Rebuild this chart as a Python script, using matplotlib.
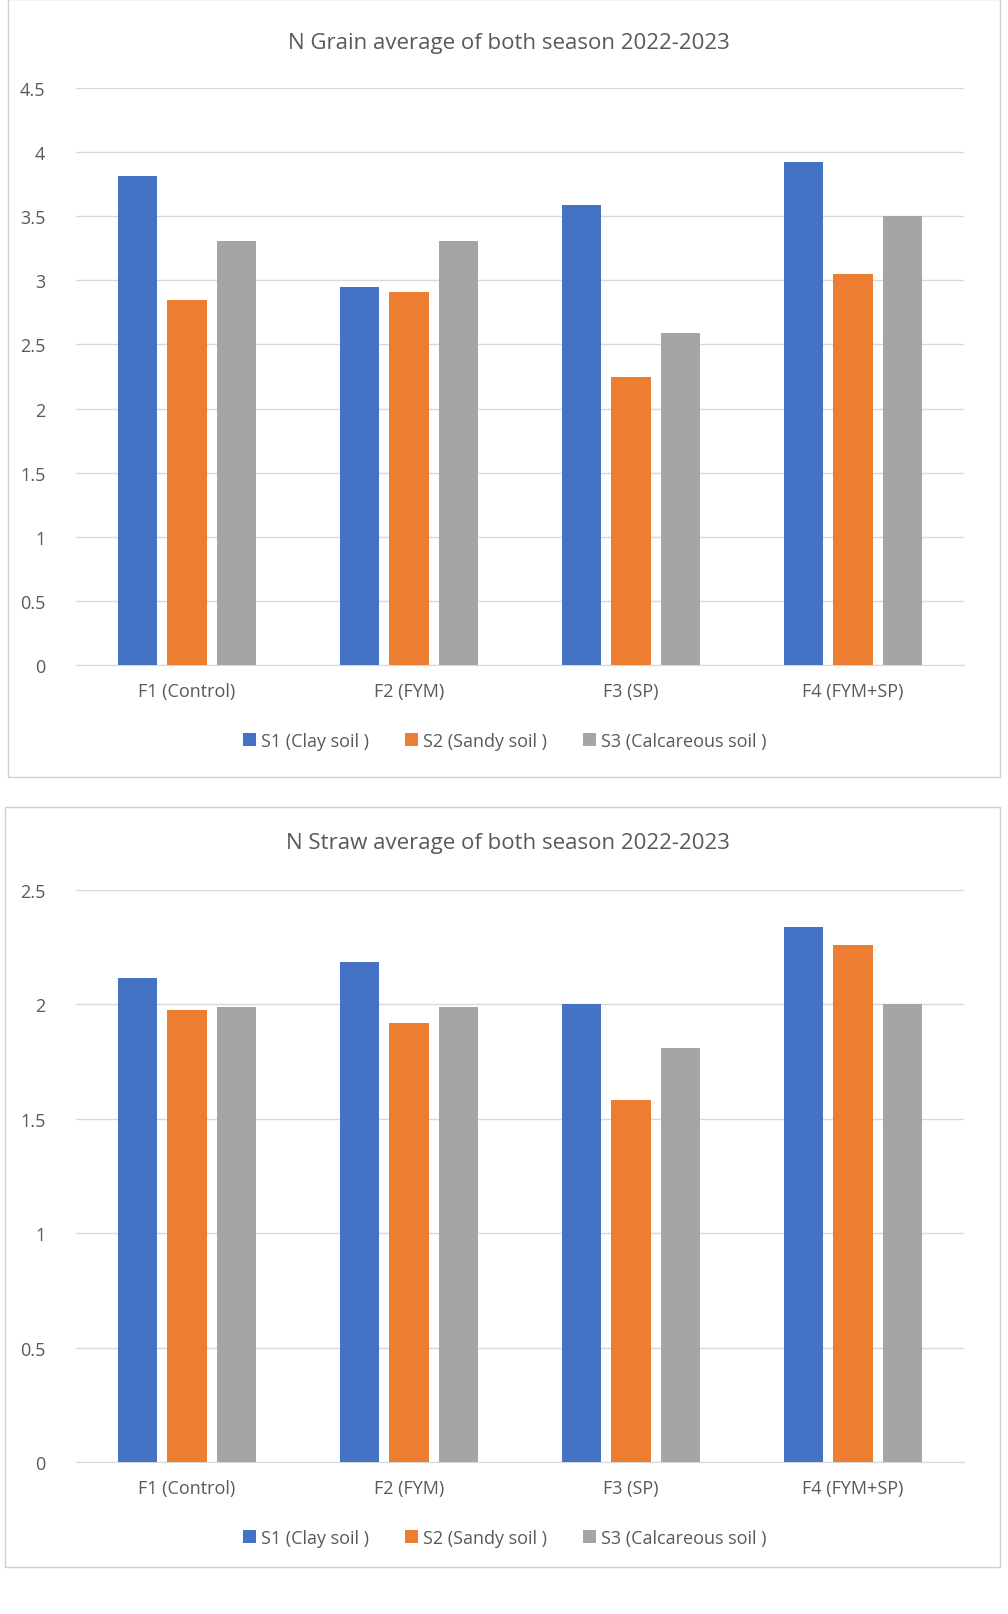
import matplotlib
matplotlib.use("Agg")
import matplotlib.pyplot as plt
import numpy as np
from matplotlib.patches import Rectangle

plt.rcParams['font.family'] = ['Open Sans', 'DejaVu Sans']

categories = ['F1 (Control)', 'F2 (FYM)', 'F3 (SP)', 'F4 (FYM+SP)']
series = ['S1 (Clay soil )', 'S2 (Sandy soil )', 'S3 (Calcareous soil )']
colors = ['#4472C4', '#ED7D31', '#A5A5A5']

grain = [[3.81, 2.95, 3.59, 3.92],
         [2.85, 2.91, 2.25, 3.05],
         [3.31, 3.31, 2.59, 3.50]]
straw = [[2.115, 2.185, 2.00, 2.34],
         [1.976, 1.92, 1.58, 2.26],
         [1.99, 1.99, 1.81, 2.00]]

W, H = 1008, 1615
fig = plt.figure(figsize=(W / 100, H / 100), dpi=100)

def fx(px): return px / W
def fy(py): return 1 - py / H

def panel(box, ax_px, data, ymax, step, title, title_y, legend_y):
    x0, y0, x1, y1 = box
    fig.patches.append(Rectangle((fx(x0), fy(y1)), fx(x1 - x0), (y1 - y0) / H,
                                 transform=fig.transFigure, fill=False,
                                 edgecolor='#d0d0d0', lw=1))
    l, t, r, b = ax_px
    ax = fig.add_axes([fx(l), fy(b), fx(r - l), (b - t) / H])
    x = np.arange(len(categories))
    for i, (vals, c) in enumerate(zip(data, colors)):
        ax.bar(x + (i - 1) * 0.225, vals, width=0.176, color=c, label=series[i], zorder=3)
    ax.set_xlim(-0.5, 3.5)
    ax.set_ylim(0, ymax)
    ax.set_yticks(np.arange(0, ymax + 1e-9, step))
    ax.set_yticklabels([f'{v:g}' for v in np.arange(0, ymax + 1e-9, step)])
    ax.set_xticks(x)
    ax.set_xticklabels(categories)
    ax.grid(axis='y', color='#d9d9d9', lw=1, zorder=0)
    for s in ['top', 'right', 'left']:
        ax.spines[s].set_visible(False)
    ax.spines['bottom'].set_color('#d9d9d9')
    ax.tick_params(length=0, labelsize=13, colors='#595959', pad=12)
    ax.tick_params(axis='y', pad=22)
    fig.text(fx((x0 + x1) / 2 + 5), fy(title_y), title, ha='center', va='center',
             fontsize=16, color='#595959')
    fig.legend(*ax.get_legend_handles_labels(), loc='center', ncol=3,
               bbox_to_anchor=(fx(505), fy(legend_y)), frameon=False, fontsize=13,
               labelcolor='#595959', handlelength=0.7, handleheight=0.7,
               handletextpad=0.3, columnspacing=2.0)

panel((8, 0, 1000, 778), (76, 89, 964, 666), grain, 4.5, 0.5,
      'N Grain average of both season 2022-2023', 44, 742)
panel((5, 808, 1000, 1568), (76, 891, 964, 1463), straw, 2.5, 0.5,
      'N Straw average of both season 2022-2023', 844, 1539)

fig.savefig('out.png', dpi=100, facecolor='white')
